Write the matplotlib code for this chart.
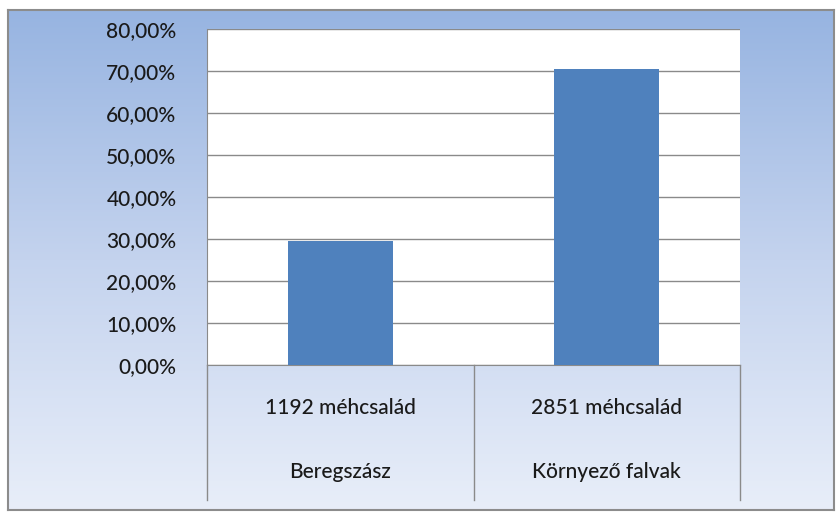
import matplotlib

matplotlib.use("Agg")

import matplotlib.pyplot as plt
import numpy as np
from matplotlib.colors import LinearSegmentedColormap
from matplotlib.ticker import FuncFormatter, MultipleLocator

# data
places = ["Beregszász", "Környező falvak"]
colonies = ["1192 méhcsalád", "2851 méhcsalád"]
share_pct = [29.48, 70.52]

W, H = 836, 512
fig = plt.figure(figsize=(W / 100, H / 100), dpi=100)
fig.patch.set_facecolor("white")

FONT = "Lato"
TXT = "#1a1a1a"
FS = 15

# gradient chart-area background with thin gray frame
bg = fig.add_axes([8 / W, 1 - 510 / H, 826 / W, 500 / H])
grad = LinearSegmentedColormap.from_list("bg", ["#97b4e1", "#c4d3ee", "#e8eef9"])
bg.imshow(np.linspace(0, 1, 256)[:, None], aspect="auto", cmap=grad,
          extent=(0, 1, 0, 1), origin="upper")
bg.set_xlim(0, 1)
bg.set_ylim(0, 1)
bg.set_xticks([])
bg.set_yticks([])
for s in bg.spines.values():
    s.set_color("#8c8c8c")
    s.set_linewidth(1.5)

# plot area
x0, x1, y0, y1 = 207, 740, 29, 365
ax = fig.add_axes([x0 / W, 1 - y1 / H, (x1 - x0) / W, (y1 - y0) / H])
ax.set_facecolor("white")
ax.set_xlim(-0.5, 1.5)
ax.set_ylim(0, 80)
ax.yaxis.set_major_locator(MultipleLocator(10))
ax.yaxis.set_major_formatter(FuncFormatter(lambda v, _: f"{v:.2f}%".replace(".", ",")))
ax.grid(axis="y", color="#8a8a8a", linewidth=1.0)
ax.set_axisbelow(True)
ax.bar(range(len(places)), share_pct, width=0.395, color="#4f81bd", zorder=3)
# no gridline along the top edge
ax.yaxis.get_gridlines()[-1].set_visible(False)

for side in ("top", "right"):
    ax.spines[side].set_visible(False)
ax.spines["left"].set_color("#8a8a8a")
ax.spines["bottom"].set_color("#8a8a8a")
ax.tick_params(axis="y", length=0, pad=22, labelsize=FS, labelcolor=TXT)
for lab in ax.get_yticklabels():
    lab.set_fontfamily(FONT)
    lab.set_fontweight("medium")
ax.set_xticks([])

# two-level category axis below the plot
drop = (500 - y1) / (y1 - y0)
trans = ax.get_xaxis_transform()
for xd in (-0.5, 0.5, 1.5):
    ax.plot([xd, xd], [0, -drop], transform=trans, color="#8a8a8a",
            linewidth=1.0, clip_on=False)
for i, (c, p) in enumerate(zip(colonies, places)):
    ax.text(i, -(408 - y1) / (y1 - y0), c, transform=trans, ha="center", va="center",
            fontsize=FS, color=TXT, fontfamily=FONT, fontweight="medium")
    ax.text(i, -(472 - y1) / (y1 - y0), p, transform=trans, ha="center", va="center",
            fontsize=FS, color=TXT, fontfamily=FONT, fontweight="medium")

fig.savefig("out.png", dpi=100)
